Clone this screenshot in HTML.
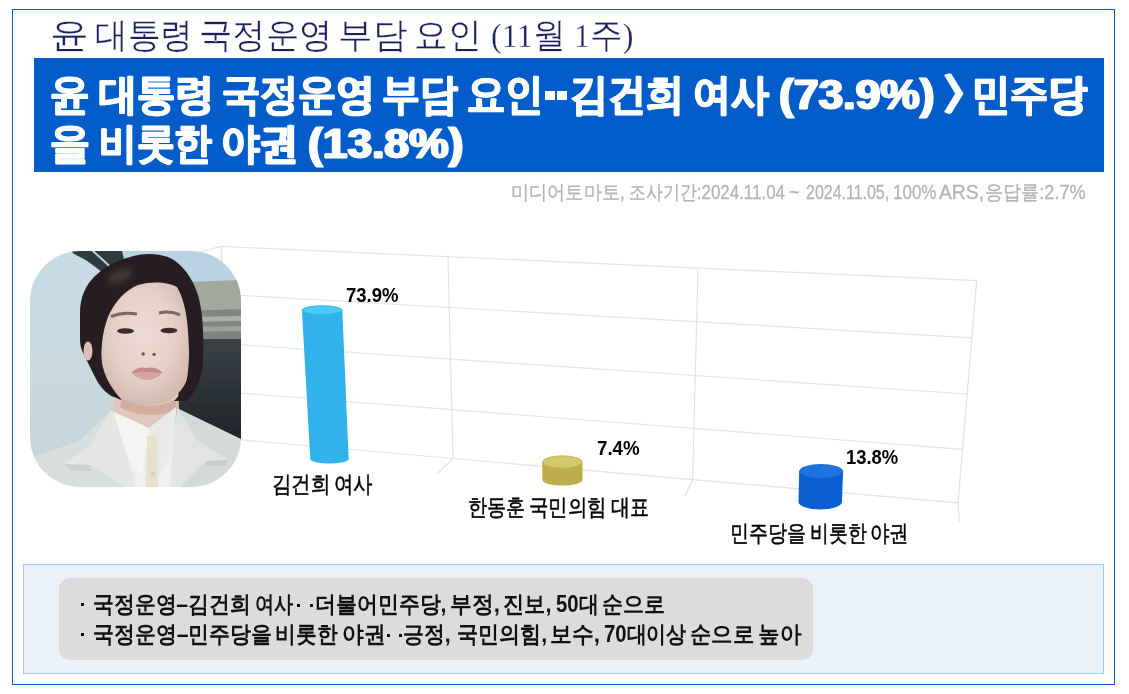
<!DOCTYPE html>
<html lang="ko">
<head>
<meta charset="utf-8">
<style>
html,body{margin:0;padding:0;background:#fff;}
body{width:1129px;height:694px;position:relative;overflow:hidden;font-family:"Liberation Sans",sans-serif;}
.abs{position:absolute;}
span{position:absolute;white-space:nowrap;transform-origin:0 0;}
#frame{left:12px;top:9px;width:1101px;height:674px;border:1px solid #0b5cc9;}
#head{left:34px;top:58px;width:1070px;height:114px;background:#025cc9;}
.hs{color:#fff;}
.dot{position:absolute;width:10px;height:9px;background:#fff;}
.tt{color:#19225f;}
.sr{color:#b3b3b3;}
.pc{color:#000;}
.lb{color:#000;}
.nt{color:#111;}
.nd{position:absolute;width:3px;height:3px;background:#111;}
#note{left:23px;top:564px;width:1079px;height:108px;background:#eaf1f9;border:1px solid #9fcaee;}
#pill{left:59px;top:578px;width:754px;height:82px;background:#dcdcdc;border-radius:11px;}
</style>
</head>
<body>
<div id="frame" class="abs"></div>
<div id="head" class="abs"></div>
<span class="hs" style="font-size:43.0px;font-weight:700;-webkit-text-stroke:1.0px #fff;line-height:48px;text-shadow:1.3px 0 0 #fff,-1.3px 0 0 #fff;left:49.8px;top:69.8px;transform:scaleX(0.917)">윤</span>
<span class="hs" style="font-size:43.0px;font-weight:700;-webkit-text-stroke:1.0px #fff;line-height:48px;text-shadow:1.3px 0 0 #fff,-1.3px 0 0 #fff;left:99.4px;top:69.8px;transform:scaleX(0.889)">대통령</span>
<span class="hs" style="font-size:43.0px;font-weight:700;-webkit-text-stroke:1.0px #fff;line-height:48px;text-shadow:1.3px 0 0 #fff,-1.3px 0 0 #fff;left:221.5px;top:69.8px;transform:scaleX(0.887)">국정운영</span>
<span class="hs" style="font-size:43.0px;font-weight:700;-webkit-text-stroke:1.0px #fff;line-height:48px;text-shadow:1.3px 0 0 #fff,-1.3px 0 0 #fff;left:382.1px;top:69.8px;transform:scaleX(0.877)">부담</span>
<span class="hs" style="font-size:43.0px;font-weight:700;-webkit-text-stroke:1.0px #fff;line-height:48px;text-shadow:1.3px 0 0 #fff,-1.3px 0 0 #fff;left:467.2px;top:69.8px;transform:scaleX(0.891)">요인</span>
<span class="hs" style="font-size:43.0px;font-weight:700;-webkit-text-stroke:1.0px #fff;line-height:48px;text-shadow:1.3px 0 0 #fff,-1.3px 0 0 #fff;left:570.4px;top:69.8px;transform:scaleX(0.882)">김건희</span>
<span class="hs" style="font-size:43.0px;font-weight:700;-webkit-text-stroke:1.0px #fff;line-height:48px;text-shadow:1.3px 0 0 #fff,-1.3px 0 0 #fff;left:692.7px;top:69.8px;transform:scaleX(0.882)">여사</span>
<span class="hs" style="font-size:43.0px;font-weight:700;-webkit-text-stroke:1.0px #fff;line-height:48px;text-shadow:1.3px 0 0 #fff,-1.3px 0 0 #fff;left:778.5px;top:69.8px;transform:scaleX(1.033)">(73.9%)</span>
<span class="hs" style="font-size:43.0px;font-weight:700;-webkit-text-stroke:1.0px #fff;line-height:48px;text-shadow:1.3px 0 0 #fff,-1.3px 0 0 #fff;left:940.4px;top:69.8px;transform:scaleX(1.286)">〉</span>
<span class="hs" style="font-size:43.0px;font-weight:700;-webkit-text-stroke:1.0px #fff;line-height:48px;text-shadow:1.3px 0 0 #fff,-1.3px 0 0 #fff;left:972.3px;top:69.8px;transform:scaleX(0.890)">민주당</span>
<span class="hs" style="font-size:43.0px;font-weight:700;-webkit-text-stroke:1.0px #fff;line-height:48px;text-shadow:1.3px 0 0 #fff,-1.3px 0 0 #fff;left:49.8px;top:118.8px;transform:scaleX(0.927)">을</span>
<span class="hs" style="font-size:43.0px;font-weight:700;-webkit-text-stroke:1.0px #fff;line-height:48px;text-shadow:1.3px 0 0 #fff,-1.3px 0 0 #fff;left:98.6px;top:118.8px;transform:scaleX(0.876)">비롯한</span>
<span class="hs" style="font-size:43.0px;font-weight:700;-webkit-text-stroke:1.0px #fff;line-height:48px;text-shadow:1.3px 0 0 #fff,-1.3px 0 0 #fff;left:221.0px;top:118.8px;transform:scaleX(0.898)">야권</span>
<span class="hs" style="font-size:43.0px;font-weight:700;-webkit-text-stroke:1.0px #fff;line-height:48px;text-shadow:1.3px 0 0 #fff,-1.3px 0 0 #fff;left:308.1px;top:118.8px;transform:scaleX(1.032)">(13.8%)</span>

<div class="dot" style="left:545px;top:91px"></div><div class="dot" style="left:557px;top:91px"></div>

<!-- chart grid -->
<svg class="abs" style="left:0;top:0" width="1129" height="694">
  <g stroke="#e3e3e3" stroke-width="1.2" fill="none">
    <line x1="200" y1="252" x2="221" y2="246.4"/>
    <line x1="221" y1="246.4" x2="976.7" y2="280.7"/>
    <line x1="221" y1="294.2" x2="972" y2="337.8"/>
    <line x1="221" y1="343.5" x2="967.6" y2="394"/>
    <line x1="221" y1="391.7" x2="962.4" y2="449.3"/>
    <line x1="221" y1="438.1" x2="958" y2="502.9"/>
    <line x1="221" y1="246.4" x2="234" y2="438.1"/>
    <line x1="448" y1="256.8" x2="453" y2="458.5"/>
    <line x1="698" y1="269.7" x2="692.6" y2="479.6"/>
    <line x1="976.7" y1="280.7" x2="958" y2="502.9"/>
    <line x1="453" y1="458.5" x2="437" y2="474"/>
    <line x1="692.6" y1="479.6" x2="685" y2="496"/>
    <line x1="958" y1="502.9" x2="959.5" y2="522"/>
  </g>
</svg>

<!-- bars -->
<svg class="abs" style="left:0;top:0" width="1129" height="694">
  <path d="M301.9 310.2 L310.3 459 A19.2 4.5 0 0 0 348.7 459 L342.3 310.2 Z" fill="#31b2ec"/>
  <ellipse cx="322.1" cy="310.2" rx="20.0" ry="4.4" fill="#4ccafc" stroke="#33b3ec" stroke-width="1"/>
  <path d="M542.3 462 L542.3 480 A20.1 5.5 0 0 0 582.5 480 L582.5 462 Z" fill="#bcae4c"/>
  <ellipse cx="562.4" cy="462" rx="19.8" ry="6.2" fill="#d3c86a" stroke="#bfb150" stroke-width="0.8"/>
  <path d="M799.2 471.5 L798.5 502 A21.7 7.4 0 0 0 841.9 502 L843.1 471.5 Z" fill="#0b5ed1"/>
  <ellipse cx="821.1" cy="471.5" rx="21.6" ry="7.0" fill="#1c74e2" stroke="#0d60d0" stroke-width="0.8"/>
</svg>

<!-- photo -->
<svg class="abs" style="left:30px;top:251px" width="211" height="236" viewBox="0 0 211 236">
  <defs>
    <clipPath id="pc"><rect x="0" y="0" width="211" height="236" rx="50" ry="50"/></clipPath>
    <linearGradient id="bgG" x1="0" y1="0" x2="0" y2="1">
      <stop offset="0" stop-color="#c6dbe6"/><stop offset="0.5" stop-color="#c9d9e0"/><stop offset="1" stop-color="#c6d4da"/>
    </linearGradient>
    <radialGradient id="skinG" cx="0.48" cy="0.42" r="0.6">
      <stop offset="0" stop-color="#ecdcd6"/><stop offset="0.6" stop-color="#e4d0c8"/><stop offset="1" stop-color="#d3b8ad"/>
    </radialGradient>
    <linearGradient id="darkG" x1="0" y1="0" x2="0" y2="1">
      <stop offset="0" stop-color="#3a4246"/><stop offset="1" stop-color="#1d2327"/>
    </linearGradient>
    <filter id="soft" x="-5%" y="-5%" width="110%" height="110%"><feGaussianBlur stdDeviation="0.7"/></filter>
    <filter id="blur3" x="-50%" y="-50%" width="200%" height="200%"><feGaussianBlur stdDeviation="3"/></filter>
  </defs>
  <g clip-path="url(#pc)">
    <g filter="url(#soft)">
    <rect x="0" y="0" width="211" height="236" fill="url(#bgG)"/>
    <!-- sky right -->
    <rect x="90" y="0" width="121" height="32" fill="#bad3e2"/>
    <!-- structure right -->
    <path d="M155 31 L211 29 L211 60 L158 62 Z" fill="#a1a89e"/>
    <path d="M157 60 L211 58 L211 90 L155 90 Z" fill="#7f8681"/>
    <path d="M157 66 L211 65 L211 70 L157 71 Z" fill="#a9aea6"/>
    <path d="M157 76 L211 75 L211 80 L157 81 Z" fill="#9ca39c"/>
    <path d="M150 88 L211 88 L211 195 L145 190 Z" fill="url(#darkG)"/>
    <!-- door arc -->
    <path d="M40 -1 L92 -1 L95 14 L74 23 C66 16 58 10 50 6 C46 4 42 2 40 -1 Z" fill="#2f3a40"/>
    <path d="M62 -1 C68 5 76 11 81 17" stroke="#c4d0d4" stroke-width="2" fill="none"/>
    <!-- hair -->
    <path d="M92 149 C82 147 72 140 66 128 C62 120 58 112 54 104 C51 98 50 94 50 88 L50 62 C50 46 56 34 64 26 C74 16 86 10 100 6 C112 2 126 2 138 6 C152 12 162 26 168 44 C173 62 174 84 173 110 C172 128 166 142 156 150 L142 150 Z" fill="#251f20"/>
    <ellipse cx="90" cy="25" rx="13" ry="6" fill="#6a5a52" opacity="0.45" filter="url(#blur3)" transform="rotate(-25 90 25)"/>
    <!-- neck -->
    <path d="M86 135 L148 135 L149 158 L120 180 L82 162 Z" fill="#e0c8bf"/>
    <path d="M92 146 C104 156 130 158 146 148 L147 158 C134 166 104 166 90 156 Z" fill="#cfa898" opacity="0.8"/>
    <!-- face -->
    <path d="M78 66 C84 52 94 40 108 34 C122 30 138 31 147 36 C153 46 157 62 158 80 C159 96 160 112 158.5 124 C156 134 150 142 140 149 C132 153 124 154 116 154 C106 153 98 151 92 148 C84 142 76 134 72.5 124 C71 114 71 102 72 92 C73 82 75 74 78 66 Z" fill="url(#skinG)"/>
    <!-- hair strands over face sides -->
    <path d="M92 149 C86 148 78 142 73 134 C68 126 66 116 64 104 C63 92 63 80 66 70 L72 72 C70 84 70 98 72 112 C74 124 80 136 92 149 Z" fill="#251f20"/>
    <path d="M157 58 C160 80 160 112 157 128 C154 140 148 146 144 150 L154 150 C164 136 168 110 166 82 C165 70 163 62 160 56 Z" fill="#251f20"/>
    <ellipse cx="58" cy="100" rx="4.5" ry="9.5" fill="#d9bfb4"/>
    <!-- brows -->
    <path d="M81 65.5 Q93 60.5 107 63" stroke="#7d675e" stroke-width="3" fill="none"/>
    <path d="M129 62 Q141 59.5 150 64" stroke="#7d675e" stroke-width="3" fill="none"/>
    <!-- eyes -->
    <ellipse cx="95.5" cy="80" rx="8.5" ry="2.8" fill="#3a2a28"/>
    <ellipse cx="139" cy="79.5" rx="8.5" ry="2.8" fill="#3a2a28"/>
    <!-- nose -->
    <ellipse cx="118.5" cy="101" rx="11" ry="6" fill="#e9d6cf"/>
    <circle cx="113.2" cy="103" r="1.7" fill="#7a5048"/><circle cx="124.1" cy="103.4" r="1.7" fill="#7a5048"/>
    <!-- lips -->
    <path d="M101 122 Q108 115 116.5 117 Q125 115 133 122 Q117 121 101 122 Z" fill="#c48a86"/>
    <path d="M102 122 Q117 121 132 122 Q126 129 117 129 Q108 129 102 122 Z" fill="#d6a39d"/>
    <!-- jacket left -->
    <path d="M-2 205 L7 205 L51 189 L81 159 L106 236 L-2 236 Z" fill="#dadedc"/>
    <path d="M81 159 L60 195 L34 213 L60 214 L95 236 L106 236 Z" fill="#e5e7e4"/>
    <path d="M34 213 L60 214 L62 220 L40 219 Z" fill="#cbcfcd"/>
    <!-- jacket right -->
    <path d="M147 157 L211 188 L211 236 L139 236 Z" fill="#d5d9d7"/>
    <path d="M147 157 L168 190 L198 209 L176 210 L150 236 L139 236 Z" fill="#e1e4e1"/>
    <path d="M176 210 L198 209 L196 214 L178 215 Z" fill="#c8ccca"/>
    <!-- shirt -->
    <path d="M82 160 L119 177 L146 156 L140 236 L106 236 Z" fill="#eff0ee"/>
    <path d="M119 177 L112 226 L100 210 L84 162 Z" fill="#f4f4f2"/>
    <path d="M119 177 L127 228 L143 200 L146 157 Z" fill="#e9eae8"/>
    <path d="M117 185 L127 185 L128 236 L116 236 Z" fill="#e6e0cc"/>
    <circle cx="123" cy="223" r="2.2" fill="#d8d0b8"/>
    </g>
  </g>
</svg>

<div id="note" class="abs"></div>
<div id="pill" class="abs"></div>
<div class="nd" style="left:81px;top:603px"></div>
<div class="nd" style="left:81px;top:633px"></div>
<div class="nd" style="left:297px;top:604px"></div>
<div class="nd" style="left:310px;top:604px"></div>
<div class="nd" style="left:387px;top:634px"></div>
<div class="nd" style="left:399px;top:634px"></div>
<span class="tt" style="font-family:'Liberation Serif',serif;font-size:34.5px;line-height:44px;-webkit-text-stroke:0.3px #fff;left:49.5px;top:12.8px;transform:scaleX(1.110)">윤</span>
<span class="tt" style="font-family:'Liberation Serif',serif;font-size:34.5px;line-height:44px;-webkit-text-stroke:0.3px #fff;left:94.7px;top:12.8px;transform:scaleX(0.935)">대통령</span>
<span class="tt" style="font-family:'Liberation Serif',serif;font-size:34.5px;line-height:44px;-webkit-text-stroke:0.3px #fff;left:199.1px;top:12.8px;transform:scaleX(0.952)">국정운영</span>
<span class="tt" style="font-family:'Liberation Serif',serif;font-size:34.5px;line-height:44px;-webkit-text-stroke:0.3px #fff;left:338.3px;top:12.8px;transform:scaleX(0.988)">부담</span>
<span class="tt" style="font-family:'Liberation Serif',serif;font-size:34.5px;line-height:44px;-webkit-text-stroke:0.3px #fff;left:414.1px;top:12.8px;transform:scaleX(0.962)">요인</span>
<span class="tt" style="font-family:'Liberation Serif',serif;font-size:34.5px;line-height:44px;-webkit-text-stroke:0.3px #fff;left:490.6px;top:12.8px;transform:scaleX(0.934)">(11월</span>
<span class="tt" style="font-family:'Liberation Serif',serif;font-size:34.5px;line-height:44px;-webkit-text-stroke:0.3px #fff;left:573.8px;top:12.8px;transform:scaleX(0.934)">1주)</span>
<span class="sr" style="font-size:20px;line-height:24px;-webkit-text-stroke:0.3px #b3b3b3;left:511.2px;top:180.0px;transform:scaleX(0.907)">미디어토마토,</span>
<span class="sr" style="font-size:20px;line-height:24px;-webkit-text-stroke:0.3px #b3b3b3;left:628.9px;top:180.0px;transform:scaleX(0.847)">조사기간:2024.11.04</span>
<span class="sr" style="font-size:20px;line-height:24px;-webkit-text-stroke:0.3px #b3b3b3;left:789.1px;top:180.0px;transform:scaleX(0.900)">~</span>
<span class="sr" style="font-size:20px;line-height:24px;-webkit-text-stroke:0.3px #b3b3b3;left:805.7px;top:180.0px;transform:scaleX(0.798)">2024.11.05,</span>
<span class="sr" style="font-size:20px;line-height:24px;-webkit-text-stroke:0.3px #b3b3b3;left:892.5px;top:180.0px;transform:scaleX(0.850)">100%</span>
<span class="sr" style="font-size:20px;line-height:24px;-webkit-text-stroke:0.3px #b3b3b3;left:939.4px;top:180.0px;transform:scaleX(0.964)">ARS,</span>
<span class="sr" style="font-size:20px;line-height:24px;-webkit-text-stroke:0.3px #b3b3b3;left:985.4px;top:180.0px;transform:scaleX(0.905)">응답률:2.7%</span>
<span class="pc" style="font-size:19.5px;font-weight:700;line-height:22px;left:345.8px;top:284.0px;transform:scaleX(0.948)">73.9%</span>
<span class="pc" style="font-size:19.5px;font-weight:700;line-height:22px;left:596.9px;top:436.8px;transform:scaleX(0.960)">7.4%</span>
<span class="pc" style="font-size:19.5px;font-weight:700;line-height:22px;left:845.7px;top:445.9px;transform:scaleX(0.944)">13.8%</span>
<span class="lb" style="font-size:22.8px;line-height:26px;-webkit-text-stroke:0.5px #000;left:272.3px;top:470.8px;transform:scaleX(0.847)">김건희</span>
<span class="lb" style="font-size:22.8px;line-height:26px;-webkit-text-stroke:0.5px #000;left:334.0px;top:470.8px;transform:scaleX(0.845)">여사</span>
<span class="lb" style="font-size:22.8px;line-height:26px;-webkit-text-stroke:0.5px #000;left:468.1px;top:494.1px;transform:scaleX(0.833)">한동훈</span>
<span class="lb" style="font-size:22.8px;line-height:26px;-webkit-text-stroke:0.5px #000;left:529.2px;top:494.1px;transform:scaleX(0.845)">국민의힘</span>
<span class="lb" style="font-size:22.8px;line-height:26px;-webkit-text-stroke:0.5px #000;left:610.7px;top:494.1px;transform:scaleX(0.825)">대표</span>
<span class="lb" style="font-size:22.8px;line-height:26px;-webkit-text-stroke:0.5px #000;left:730.4px;top:520.1px;transform:scaleX(0.826)">민주당을</span>
<span class="lb" style="font-size:22.8px;line-height:26px;-webkit-text-stroke:0.5px #000;left:810.2px;top:520.1px;transform:scaleX(0.819)">비롯한</span>
<span class="lb" style="font-size:22.8px;line-height:26px;-webkit-text-stroke:0.5px #000;left:870.3px;top:520.1px;transform:scaleX(0.845)">야권</span>
<span class="nt" style="font-size:23.4px;font-weight:700;line-height:28px;left:92.5px;top:589.8px;transform:scaleX(0.906)">국정운영–김건희</span>
<span class="nt" style="font-size:23.4px;font-weight:700;line-height:28px;left:254.6px;top:589.8px;transform:scaleX(0.836)">여사</span>
<span class="nt" style="font-size:23.4px;font-weight:700;line-height:28px;left:315.4px;top:589.8px;transform:scaleX(0.910)">더불어민주당,</span>
<span class="nt" style="font-size:23.4px;font-weight:700;line-height:28px;left:450.2px;top:589.8px;transform:scaleX(0.950)">부정,</span>
<span class="nt" style="font-size:23.4px;font-weight:700;line-height:28px;left:503.4px;top:589.8px;transform:scaleX(0.922)">진보,</span>
<span class="nt" style="font-size:23.4px;font-weight:700;line-height:28px;left:556.0px;top:589.8px;transform:scaleX(0.867)">50대</span>
<span class="nt" style="font-size:23.4px;font-weight:700;line-height:28px;left:602.3px;top:589.8px;transform:scaleX(0.913)">순으로</span>
<span class="nt" style="font-size:23.4px;font-weight:700;line-height:28px;left:92.5px;top:620.0px;transform:scaleX(0.909)">국정운영–민주당을</span>
<span class="nt" style="font-size:23.4px;font-weight:700;line-height:28px;left:274.9px;top:620.0px;transform:scaleX(0.903)">비롯한</span>
<span class="nt" style="font-size:23.4px;font-weight:700;line-height:28px;left:341.7px;top:620.0px;transform:scaleX(0.945)">야권</span>
<span class="nt" style="font-size:23.4px;font-weight:700;line-height:28px;left:403.3px;top:620.0px;transform:scaleX(0.908)">긍정,</span>
<span class="nt" style="font-size:23.4px;font-weight:700;line-height:28px;left:456.5px;top:620.0px;transform:scaleX(0.915)">국민의힘,</span>
<span class="nt" style="font-size:23.4px;font-weight:700;line-height:28px;left:549.6px;top:620.0px;transform:scaleX(0.950)">보수,</span>
<span class="nt" style="font-size:23.4px;font-weight:700;line-height:28px;left:603.6px;top:620.0px;transform:scaleX(0.867)">70대이상</span>
<span class="nt" style="font-size:23.4px;font-weight:700;line-height:28px;left:690.0px;top:620.0px;transform:scaleX(0.930)">순으로</span>
<span class="nt" style="font-size:23.4px;font-weight:700;line-height:28px;left:757.8px;top:620.0px;transform:scaleX(0.938)">높아</span>
</body>
</html>
